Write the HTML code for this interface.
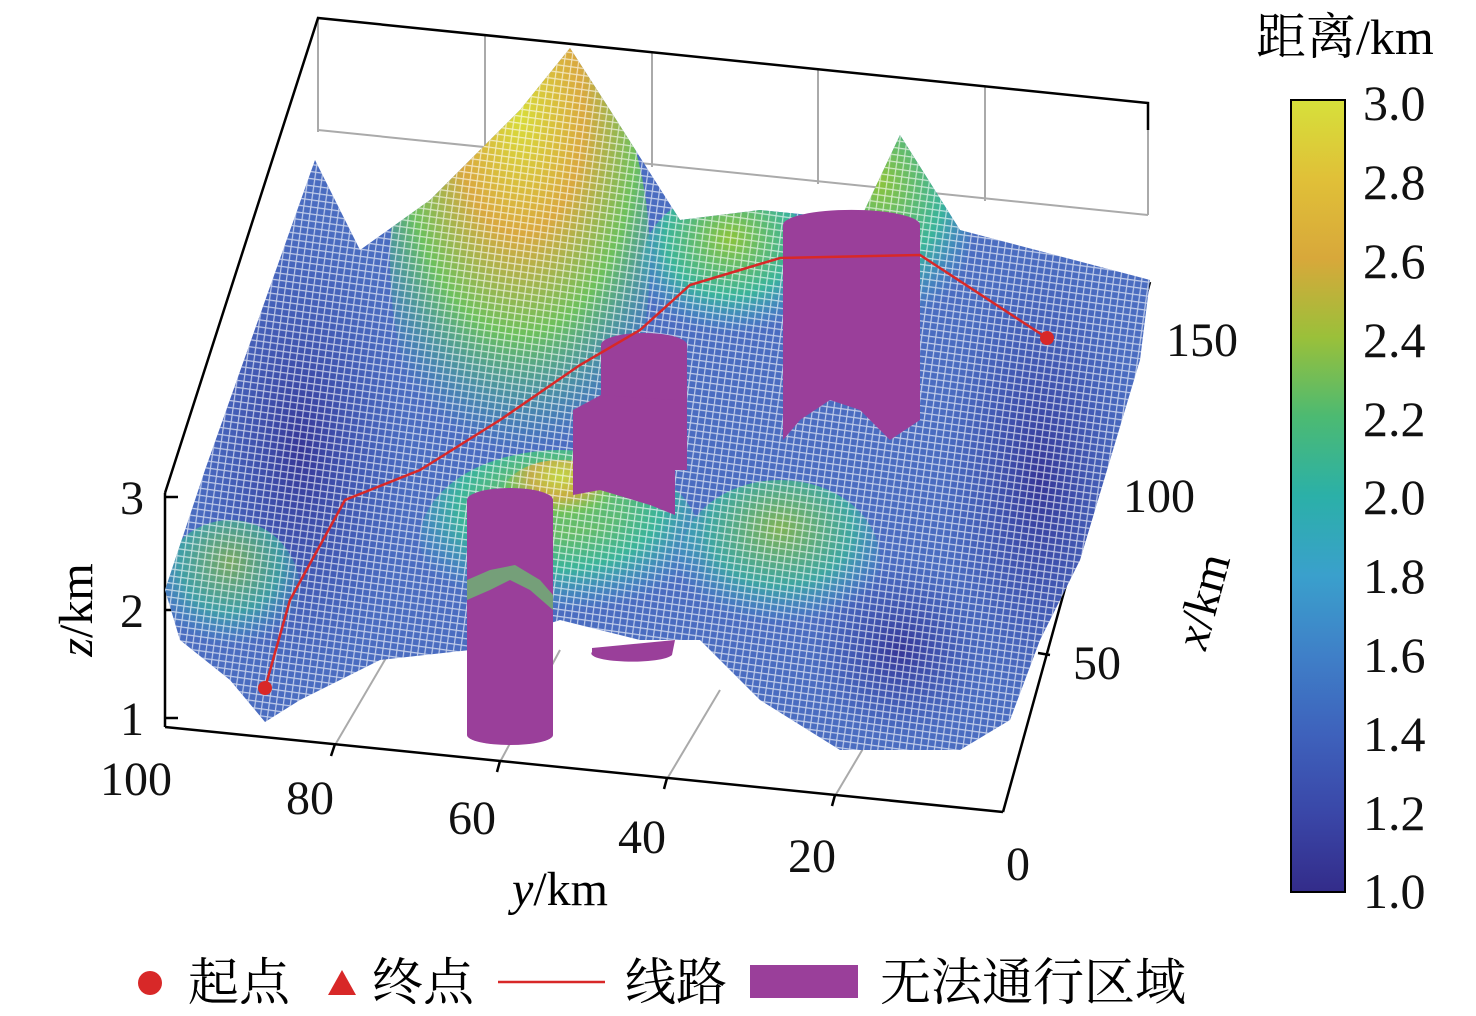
<!DOCTYPE html>
<html><head><meta charset="utf-8"><style>
html,body{margin:0;padding:0;background:#fff;}
svg{display:block;font-family:"Liberation Serif","Noto Serif CJK SC",serif;}
</style></head><body>
<svg width="1476" height="1016" viewBox="0 0 1476 1016" xmlns="http://www.w3.org/2000/svg">
<defs>
<linearGradient id="cb" x1="0" y1="1" x2="0" y2="0">
<stop offset="0" stop-color="#332c8a"/><stop offset="0.1" stop-color="#3a47a8"/>
<stop offset="0.2" stop-color="#3e62bc"/><stop offset="0.3" stop-color="#3f80c8"/>
<stop offset="0.4" stop-color="#3aa0cc"/><stop offset="0.5" stop-color="#2bb0a8"/>
<stop offset="0.6" stop-color="#4cba72"/><stop offset="0.7" stop-color="#9ac03a"/>
<stop offset="0.8" stop-color="#d8a83a"/><stop offset="0.9" stop-color="#e0c038"/>
<stop offset="1" stop-color="#d6e03a"/>
</linearGradient>
<pattern id="mesh" width="7" height="7" patternUnits="userSpaceOnUse" patternTransform="rotate(8)">
<path d="M0 0H7M0 0V7" stroke="#ffffff" stroke-width="2.4" opacity="0.65"/>
</pattern>
<radialGradient id="pk1" cx="0.5" cy="0.2" r="0.7"><stop offset="0" stop-color="#d8dc3a"/><stop offset="0.35" stop-color="#d9a83e"/><stop offset="0.65" stop-color="#6cc05c"/><stop offset="1" stop-color="#2fb0a8" stop-opacity="0"/></radialGradient>
<radialGradient id="pk2" cx="0.5" cy="0.3" r="0.6"><stop offset="0" stop-color="#8cc43c"/><stop offset="0.6" stop-color="#3ab39a"/><stop offset="1" stop-color="#3aa0cc" stop-opacity="0"/></radialGradient>
<radialGradient id="dk" cx="0.5" cy="0.5" r="0.5"><stop offset="0" stop-color="#353596"/><stop offset="1" stop-color="#3a50b0" stop-opacity="0"/></radialGradient>
<clipPath id="sc"><path d="M165,590 L205,470 L315,160 L360,250 L430,200 L520,110 L570,48 L610,110 L680,220 L760,210 L860,220 L900,135 L960,230 L1150,280 L1140,360 L1080,560 L1040,640 L1010,720 L960,750 L840,750 L760,700 L700,640 L640,640 L560,620 L470,650 L380,660 L300,700 L265,722 L230,680 L180,640 Z"/></clipPath>
</defs>
<g stroke="#aaa" stroke-width="2" fill="none">
<line x1="318" y1="130" x2="1148" y2="215"/>
<line x1="485" y1="35" x2="485" y2="150"/><line x1="652" y1="52" x2="652" y2="167"/>
<line x1="818" y1="69" x2="818" y2="184"/><line x1="985" y1="86" x2="985" y2="201"/>
<line x1="318" y1="18" x2="318" y2="132"/><line x1="1148" y1="103" x2="1148" y2="215"/>
<line x1="335" y1="745" x2="420" y2="600"/><line x1="500" y1="762" x2="560" y2="650"/>
<line x1="667" y1="779" x2="720" y2="690"/><line x1="835" y1="796" x2="880" y2="720"/>
</g>
<g stroke="#000" stroke-width="2.5" fill="none">
<polyline points="165,493 318,18 1148,103 1148,130"/>
<line x1="165" y1="493" x2="165" y2="727"/>
<line x1="165" y1="727" x2="1003" y2="812"/>
<line x1="1003" y1="812" x2="1150" y2="282"/>
<line x1="165" y1="497" x2="178" y2="497"/><line x1="165" y1="610" x2="178" y2="610"/><line x1="165" y1="718" x2="178" y2="718"/>
<line x1="335" y1="744" x2="331" y2="756"/><line x1="500" y1="761" x2="497" y2="772"/><line x1="667" y1="778" x2="664" y2="789"/><line x1="835" y1="795" x2="832" y2="806"/>
<line x1="1140" y1="332" x2="1130" y2="330"/><line x1="1096" y1="492" x2="1084" y2="490"/><line x1="1050" y1="655" x2="1038" y2="653"/>
</g>
<g clip-path="url(#sc)">
<rect x="160" y="40" width="1000" height="720" fill="#4a6cc0"/>
<ellipse cx="300" cy="450" rx="110" ry="230" fill="url(#dk)"/>
<ellipse cx="1040" cy="480" rx="100" ry="230" fill="url(#dk)"/>
<ellipse cx="900" cy="650" rx="90" ry="90" fill="url(#dk)"/>
<ellipse cx="520" cy="260" rx="130" ry="240" fill="url(#pk1)"/>
<ellipse cx="880" cy="230" rx="90" ry="120" fill="url(#pk2)"/>
<ellipse cx="730" cy="270" rx="90" ry="80" fill="url(#pk2)"/>
<ellipse cx="560" cy="540" rx="140" ry="90" fill="url(#pk2)"/>
<ellipse cx="230" cy="590" rx="70" ry="70" fill="url(#pk2)" opacity="0.7"/>
<ellipse cx="780" cy="560" rx="100" ry="80" fill="url(#pk2)" opacity="0.8"/>
<ellipse cx="560" cy="500" rx="60" ry="40" fill="url(#pk1)" opacity="0.8"/>
<rect x="160" y="40" width="1000" height="720" fill="url(#mesh)"/>
</g>
<g fill="#9a3f9a">
<path d="M467,500 A43,12 0 0 1 553,500 L553,735 A43,10 0 0 1 467,735 Z"/>
<path d="M601,345 A43,12 0 0 1 687,345 L687,470 L601,470 Z"/>
<path d="M573,410 L601,395 L675,400 L675,515 L650,505 L600,490 L573,495 Z"/>
<path d="M783,225 A68,15 0 0 1 920,225 L920,420 L890,440 L860,410 L830,400 L800,420 L783,440 Z"/>
<path d="M592,648 L675,640 L672,655 A40,8 0 0 1 592,652 Z"/>
</g>
<path d="M467,580 L490,570 L515,565 L540,580 L553,595 L553,610 L530,590 L510,580 L490,590 L467,600Z" fill="#6cb870" opacity="0.8"/>
<polyline points="265,688 290,600 345,500 420,470 500,420 580,365 640,330 690,285 740,270 780,258 920,255 1047,338" fill="none" stroke="#d82828" stroke-width="2.5"/>
<circle cx="265" cy="688" r="7" fill="#d82828"/>
<circle cx="1047" cy="338" r="7" fill="#d82828"/>
<g font-size="48" fill="#111">
<text x="120" y="514">3</text><text x="120" y="627">2</text><text x="120" y="735">1</text>
<text x="100" y="795">100</text><text x="286" y="814">80</text><text x="448" y="834">60</text>
<text x="618" y="853">40</text><text x="788" y="872">20</text><text x="1006" y="880">0</text>
<text x="1166" y="356">150</text><text x="1123" y="512">100</text><text x="1073" y="679">50</text>
</g>
<text x="560" y="905" font-size="48" text-anchor="middle"><tspan font-style="italic">y</tspan>/km</text>
<text transform="translate(92,610) rotate(-90)" font-size="48" text-anchor="middle"><tspan font-style="italic">z</tspan>/km</text>
<text transform="translate(1218,605) rotate(-75)" font-size="48" text-anchor="middle"><tspan font-style="italic">x</tspan>/km</text>
<rect x="1291" y="100" width="54" height="792" fill="url(#cb)" stroke="#000" stroke-width="2"/>
<text x="1256" y="54" font-size="50">距离/km</text>
<g font-size="50" fill="#111">
<text x="1363" y="120">3.0</text><text x="1363" y="199">2.8</text><text x="1363" y="278">2.6</text>
<text x="1363" y="357">2.4</text><text x="1363" y="436">2.2</text><text x="1363" y="514">2.0</text>
<text x="1363" y="593">1.8</text><text x="1363" y="672">1.6</text><text x="1363" y="751">1.4</text>
<text x="1363" y="830">1.2</text><text x="1363" y="908">1.0</text>
</g>
<circle cx="150" cy="983" r="12" fill="#d82828"/>
<text x="188" y="1000" font-size="51">起点</text>
<polygon points="342,970 328,995 356,995" fill="#d82828"/>
<text x="372" y="1000" font-size="51">终点</text>
<line x1="498" y1="982" x2="605" y2="982" stroke="#d82828" stroke-width="2.5"/>
<text x="625" y="1000" font-size="51">线路</text>
<rect x="750" y="965" width="108" height="33" fill="#9a3f9a"/>
<text x="880" y="1000" font-size="51">无法通行区域</text>
</svg>
</body></html>
